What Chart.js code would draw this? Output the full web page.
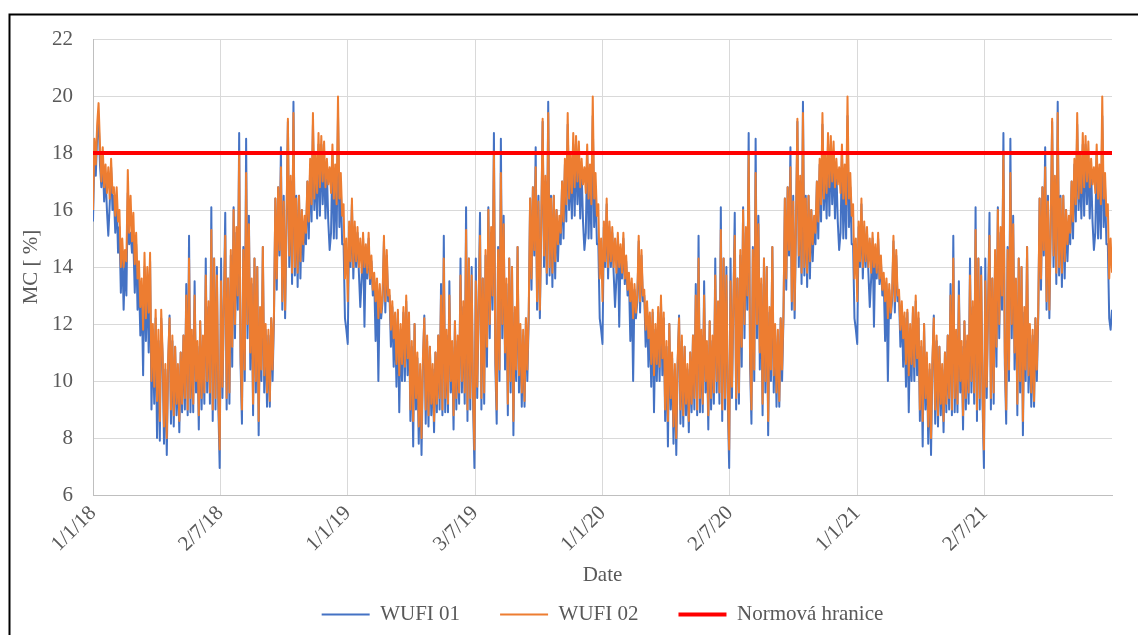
<!DOCTYPE html>
<html>
<head>
<meta charset="utf-8">
<title>MC</title>
<script src="https://cdn.jsdelivr.net/npm/chart.js@4"></script>
<style>
  html, body { margin: 0; padding: 0; background: #fff; overflow: hidden; }
  #wrap { width: 1138px; height: 635px; position: relative; }
</style>
</head>
<body>
<div id="wrap"><canvas id="mc" width="1138" height="635"></canvas></div>
<script>
// moisture content [%], one array per year, a value every 2 days
const wufi01_2018 = [15.6, 18.0, 17.2, 18.6, 19.3, 17.6, 16.8, 17.8, 16.3, 17.2,
  16.0, 15.1, 16.2, 17.5, 16.0, 16.5, 15.2, 16.4, 14.5, 15.4,
  13.1, 14.6, 12.5, 14.2, 13.0, 16.6, 14.8, 15.2, 14.5, 14.9,
  13.1, 14.8, 12.5, 13.6, 11.6, 13.2, 10.2, 14.0, 11.4, 13.6,
  11.0, 14.2, 9.0, 11.6, 9.2, 12.2, 8.0, 11.4, 7.9, 12.2,
  10.8, 7.8, 10.4, 7.4, 10.6, 12.3, 8.5, 11.4, 8.4, 11.2,
  8.8, 10.4, 8.2, 11.0, 8.9, 11.6, 9.0, 13.4, 8.8, 15.1,
  8.9, 11.6, 8.9, 13.5, 9.6, 11.2, 8.3, 12.1, 9.0, 11.4,
  9.2, 14.3, 9.6, 12.6, 9.2, 16.1, 8.6, 14.3, 9.0, 14.0,
  9.2, 6.95, 14.3, 9.4, 12.6, 15.9, 9.0, 13.6, 9.2, 14.4,
  10.5, 16.1, 11.5, 15.2, 12.5, 18.7, 10.6, 8.5, 14.7, 10.0,
  18.5, 11.5, 15.8, 10.4, 13.4, 8.8, 14.3, 9.6, 14.0, 8.1,
  12.4, 10.0, 14.7, 9.6, 11.8, 9.1, 11.6, 9.1, 12.2, 10.0,
  12.2, 16.4, 13.2, 16.8, 14.4, 18.2, 12.5, 16.5, 12.2, 15.4,
  19.1, 14.0, 17.0, 13.4, 19.8, 13.7, 16.5, 13.3, 16.5, 13.6,
  16.0, 14.2, 15.6, 14.8, 17.0, 15.0, 17.6, 15.6, 19.0, 16.0,
  17.4, 15.7, 18.3, 15.8, 18.3, 16.2, 17.8, 15.7, 17.4, 15.6,
  14.6, 15.2, 18.0, 15.0, 17.2, 15.0, 19.3, 15.4, 16.8, 14.8,
  14.8, 12.2, 11.8];
const wufi01_2019 = [11.3, 15.4, 14.0, 16.2, 13.6, 15.4, 14.0, 15.2, 13.8, 12.6,
  13.6, 15.0, 11.9, 14.6, 13.6, 15.0, 13.4, 14.2, 13.0, 13.6,
  11.4, 13.4, 10.0, 13.2, 12.2, 12.8, 14.9, 12.4, 14.4, 12.8,
  13.0, 11.2, 12.6, 10.5, 12.2, 9.8, 12.4, 8.9, 11.8, 10.0,
  12.4, 10.0, 12.8, 10.2, 12.2, 8.6, 11.2, 7.7, 12.0, 9.0,
  10.8, 7.8, 10.4, 7.4, 10.6, 12.3, 8.5, 11.4, 8.4, 11.2,
  8.8, 10.4, 8.2, 11.0, 8.9, 11.6, 9.0, 13.4, 8.8, 15.1,
  8.9, 11.6, 8.9, 13.5, 9.6, 11.2, 8.3, 12.1, 9.0, 11.4,
  9.2, 14.3, 9.6, 12.6, 9.2, 16.1, 8.6, 14.3, 9.0, 14.0,
  9.2, 6.95, 14.3, 9.4, 12.6, 15.9, 9.0, 13.6, 9.2, 14.4,
  10.5, 16.1, 11.5, 15.2, 12.5, 18.7, 10.6, 8.5, 14.7, 10.0,
  18.5, 11.5, 15.8, 10.4, 13.4, 8.8, 14.3, 9.6, 14.0, 8.1,
  12.4, 10.0, 14.7, 9.6, 11.8, 9.1, 11.6, 9.1, 12.2, 10.0,
  12.2, 16.4, 13.2, 16.8, 14.4, 18.2, 12.5, 16.5, 12.2, 15.4,
  19.1, 14.0, 17.0, 13.4, 19.8, 13.7, 16.5, 13.3, 16.5, 13.6,
  16.0, 14.2, 15.6, 14.8, 17.0, 15.0, 17.6, 15.6, 19.0, 16.0,
  17.4, 15.7, 18.3, 15.8, 18.3, 16.2, 17.8, 15.7, 17.4, 15.6,
  14.6, 15.2, 18.0, 15.0, 17.2, 15.0, 19.3, 15.4, 16.8, 14.8,
  14.8, 12.2, 11.8];
const wufi01_2020 = [11.3, 15.4, 14.0, 16.2, 13.6, 15.4, 14.0, 15.2, 13.8, 12.6,
  13.6, 15.0, 11.9, 14.6, 13.6, 15.0, 13.4, 14.2, 13.0, 13.6,
  11.4, 13.4, 10.0, 13.2, 12.2, 12.8, 14.9, 12.4, 14.4, 12.8,
  13.0, 11.2, 12.6, 10.5, 12.2, 9.8, 12.4, 8.9, 11.8, 10.0,
  12.4, 10.0, 12.8, 10.2, 12.2, 8.6, 11.2, 7.7, 12.0, 9.0,
  10.8, 7.8, 10.4, 7.4, 10.6, 12.3, 8.5, 11.4, 8.4, 11.2,
  8.8, 10.4, 8.2, 11.0, 8.9, 11.6, 9.0, 13.4, 8.8, 15.1,
  8.9, 11.6, 8.9, 13.5, 9.6, 11.2, 8.3, 12.1, 9.0, 11.4,
  9.2, 14.3, 9.6, 12.6, 9.2, 16.1, 8.6, 14.3, 9.0, 14.0,
  9.2, 6.95, 14.3, 9.4, 12.6, 15.9, 9.0, 13.6, 9.2, 14.4,
  10.5, 16.1, 11.5, 15.2, 12.5, 18.7, 10.6, 8.5, 14.7, 10.0,
  18.5, 11.5, 15.8, 10.4, 13.4, 8.8, 14.3, 9.6, 14.0, 8.1,
  12.4, 10.0, 14.7, 9.6, 11.8, 9.1, 11.6, 9.1, 12.2, 10.0,
  12.2, 16.4, 13.2, 16.8, 14.4, 18.2, 12.5, 16.5, 12.2, 15.4,
  19.1, 14.0, 17.0, 13.4, 19.8, 13.7, 16.5, 13.3, 16.5, 13.6,
  16.0, 14.2, 15.6, 14.8, 17.0, 15.0, 17.6, 15.6, 19.0, 16.0,
  17.4, 15.7, 18.3, 15.8, 18.3, 16.2, 17.8, 15.7, 17.4, 15.6,
  14.6, 15.2, 18.0, 15.0, 17.2, 15.0, 19.3, 15.4, 16.8, 14.8,
  14.8, 12.2, 11.8];
const wufi01_2021 = [11.3, 15.4, 14.0, 16.2, 13.6, 15.4, 14.0, 15.2, 13.8, 12.6,
  13.6, 15.0, 11.9, 14.6, 13.6, 15.0, 13.4, 14.2, 13.0, 13.6,
  11.4, 13.4, 10.0, 13.2, 12.2, 12.8, 14.9, 12.4, 14.4, 12.8,
  13.0, 11.2, 12.6, 10.5, 12.2, 9.8, 12.4, 8.9, 11.8, 10.0,
  12.4, 10.0, 12.8, 10.2, 12.2, 8.6, 11.2, 7.7, 12.0, 9.0,
  10.8, 7.8, 10.4, 7.4, 10.6, 12.3, 8.5, 11.4, 8.4, 11.2,
  8.8, 10.4, 8.2, 11.0, 8.9, 11.6, 9.0, 13.4, 8.8, 15.1,
  8.9, 11.6, 8.9, 13.5, 9.6, 11.2, 8.3, 12.1, 9.0, 11.4,
  9.2, 14.3, 9.6, 12.6, 9.2, 16.1, 8.6, 14.3, 9.0, 14.0,
  9.2, 6.95, 14.3, 9.4, 12.6, 15.9, 9.0, 13.6, 9.2, 14.4,
  10.5, 16.1, 11.5, 15.2, 12.5, 18.7, 10.6, 8.5, 14.7, 10.0,
  18.5, 11.5, 15.8, 10.4, 13.4, 8.8, 14.3, 9.6, 14.0, 8.1,
  12.4, 10.0, 14.7, 9.6, 11.8, 9.1, 11.6, 9.1, 12.2, 10.0,
  12.2, 16.4, 13.2, 16.8, 14.4, 18.2, 12.5, 16.5, 12.2, 15.4,
  19.1, 14.0, 17.0, 13.4, 19.8, 13.7, 16.5, 13.3, 16.5, 13.6,
  16.0, 14.2, 15.6, 14.8, 17.0, 15.0, 17.6, 15.6, 19.0, 16.0,
  17.4, 15.7, 18.3, 15.8, 18.3, 16.2, 17.8, 15.7, 17.4, 15.6,
  14.6, 15.2, 18.0, 15.0, 17.2, 15.0, 19.3, 15.4, 16.8, 14.8,
  14.8, 12.2, 11.8, 12.5];

const wufi02_2018 = [16.0, 18.5, 17.6, 19.0, 19.75, 18.3, 17.0, 18.2, 16.8, 17.6,
  16.6, 17.5, 16.4, 17.8, 16.6, 16.8, 15.8, 16.8, 15.6, 16.0,
  14.0, 15.0, 14.0, 14.6, 14.2, 17.4, 15.2, 16.5, 14.9, 15.9,
  14.1, 15.2, 13.6, 14.2, 12.6, 13.6, 11.8, 14.5, 12.2, 14.0,
  12.4, 14.5, 10.0, 12.0, 9.8, 12.5, 9.3, 11.8, 8.6, 12.5,
  11.0, 8.4, 10.6, 8.0, 10.8, 12.2, 9.0, 11.6, 8.8, 11.2,
  9.2, 10.6, 8.6, 11.0, 9.2, 11.6, 9.4, 13.0, 9.0, 14.3,
  9.4, 11.8, 9.2, 13.0, 10.0, 11.4, 8.8, 12.1, 9.4, 11.6,
  9.6, 13.7, 10.0, 12.8, 9.6, 15.3, 9.0, 14.3, 9.4, 13.7,
  9.6, 7.6, 13.5, 9.8, 12.8, 15.1, 9.4, 13.6, 9.6, 14.6,
  11.2, 16.0, 12.0, 15.4, 13.0, 18.05, 11.0, 9.0, 14.6, 10.4,
  17.3, 12.0, 15.5, 11.0, 13.6, 9.2, 14.3, 10.0, 14.0, 8.6,
  12.6, 10.4, 14.7, 10.2, 12.0, 9.6, 11.8, 9.3, 12.2, 10.4,
  12.4, 16.4, 13.6, 16.8, 14.6, 17.5, 12.8, 16.3, 12.5, 15.6,
  19.2, 14.4, 17.2, 13.8, 19.4, 14.0, 16.4, 13.8, 16.5, 14.2,
  16.0, 14.8, 15.8, 15.2, 17.0, 15.6, 17.8, 16.2, 19.4, 16.4,
  18.0, 16.6, 18.7, 16.8, 18.6, 17.0, 18.4, 16.8, 17.8, 16.9,
  17.5, 16.6, 18.3, 16.4, 17.6, 16.2, 19.98, 16.4, 17.3, 15.8,
  16.2, 13.6, 15.0];
const wufi02_2019 = [12.8, 15.6, 14.2, 16.4, 14.0, 15.6, 14.2, 15.4, 14.0, 15.0,
  13.8, 15.2, 14.0, 14.8, 13.8, 15.2, 13.6, 14.4, 13.2, 13.8,
  12.8, 13.6, 12.2, 13.4, 12.4, 13.0, 15.1, 12.8, 14.6, 13.0,
  13.2, 11.8, 12.8, 11.5, 12.4, 10.6, 12.5, 10.2, 12.0, 10.6,
  12.6, 10.5, 13.0, 10.8, 12.4, 9.0, 11.4, 8.6, 12.0, 9.4,
  11.0, 8.4, 10.6, 8.0, 10.8, 12.2, 9.0, 11.6, 8.8, 11.2,
  9.2, 10.6, 8.6, 11.0, 9.2, 11.6, 9.4, 13.0, 9.0, 14.3,
  9.4, 11.8, 9.2, 13.0, 10.0, 11.4, 8.8, 12.1, 9.4, 11.6,
  9.6, 13.7, 10.0, 12.8, 9.6, 15.3, 9.0, 14.3, 9.4, 13.7,
  9.6, 7.6, 13.5, 9.8, 12.8, 15.1, 9.4, 13.6, 9.6, 14.6,
  11.2, 16.0, 12.0, 15.4, 13.0, 18.05, 11.0, 9.0, 14.6, 10.4,
  17.3, 12.0, 15.5, 11.0, 13.6, 9.2, 14.3, 10.0, 14.0, 8.6,
  12.6, 10.4, 14.7, 10.2, 12.0, 9.6, 11.8, 9.3, 12.2, 10.4,
  12.4, 16.4, 13.6, 16.8, 14.6, 17.5, 12.8, 16.3, 12.5, 15.6,
  19.2, 14.4, 17.2, 13.8, 19.4, 14.0, 16.4, 13.8, 16.5, 14.2,
  16.0, 14.8, 15.8, 15.2, 17.0, 15.6, 17.8, 16.2, 19.4, 16.4,
  18.0, 16.6, 18.7, 16.8, 18.6, 17.0, 18.4, 16.8, 17.8, 16.9,
  17.5, 16.6, 18.3, 16.4, 17.6, 16.2, 19.98, 16.4, 17.3, 15.8,
  16.2, 13.6, 15.0];
const wufi02_2020 = [12.8, 15.6, 14.2, 16.4, 14.0, 15.6, 14.2, 15.4, 14.0, 15.0,
  13.8, 15.2, 14.0, 14.8, 13.8, 15.2, 13.6, 14.4, 13.2, 13.8,
  12.8, 13.6, 12.2, 13.4, 12.4, 13.0, 15.1, 12.8, 14.6, 13.0,
  13.2, 11.8, 12.8, 11.5, 12.4, 10.6, 12.5, 10.2, 12.0, 10.6,
  12.6, 10.5, 13.0, 10.8, 12.4, 9.0, 11.4, 8.6, 12.0, 9.4,
  11.0, 8.4, 10.6, 8.0, 10.8, 12.2, 9.0, 11.6, 8.8, 11.2,
  9.2, 10.6, 8.6, 11.0, 9.2, 11.6, 9.4, 13.0, 9.0, 14.3,
  9.4, 11.8, 9.2, 13.0, 10.0, 11.4, 8.8, 12.1, 9.4, 11.6,
  9.6, 13.7, 10.0, 12.8, 9.6, 15.3, 9.0, 14.3, 9.4, 13.7,
  9.6, 7.6, 13.5, 9.8, 12.8, 15.1, 9.4, 13.6, 9.6, 14.6,
  11.2, 16.0, 12.0, 15.4, 13.0, 18.05, 11.0, 9.0, 14.6, 10.4,
  17.3, 12.0, 15.5, 11.0, 13.6, 9.2, 14.3, 10.0, 14.0, 8.6,
  12.6, 10.4, 14.7, 10.2, 12.0, 9.6, 11.8, 9.3, 12.2, 10.4,
  12.4, 16.4, 13.6, 16.8, 14.6, 17.5, 12.8, 16.3, 12.5, 15.6,
  19.2, 14.4, 17.2, 13.8, 19.4, 14.0, 16.4, 13.8, 16.5, 14.2,
  16.0, 14.8, 15.8, 15.2, 17.0, 15.6, 17.8, 16.2, 19.4, 16.4,
  18.0, 16.6, 18.7, 16.8, 18.6, 17.0, 18.4, 16.8, 17.8, 16.9,
  17.5, 16.6, 18.3, 16.4, 17.6, 16.2, 19.98, 16.4, 17.3, 15.8,
  16.2, 13.6, 15.0];
const wufi02_2021 = [12.8, 15.6, 14.2, 16.4, 14.0, 15.6, 14.2, 15.4, 14.0, 15.0,
  13.8, 15.2, 14.0, 14.8, 13.8, 15.2, 13.6, 14.4, 13.2, 13.8,
  12.8, 13.6, 12.2, 13.4, 12.4, 13.0, 15.1, 12.8, 14.6, 13.0,
  13.2, 11.8, 12.8, 11.5, 12.4, 10.6, 12.5, 10.2, 12.0, 10.6,
  12.6, 10.5, 13.0, 10.8, 12.4, 9.0, 11.4, 8.6, 12.0, 9.4,
  11.0, 8.4, 10.6, 8.0, 10.8, 12.2, 9.0, 11.6, 8.8, 11.2,
  9.2, 10.6, 8.6, 11.0, 9.2, 11.6, 9.4, 13.0, 9.0, 14.3,
  9.4, 11.8, 9.2, 13.0, 10.0, 11.4, 8.8, 12.1, 9.4, 11.6,
  9.6, 13.7, 10.0, 12.8, 9.6, 15.3, 9.0, 14.3, 9.4, 13.7,
  9.6, 7.6, 13.5, 9.8, 12.8, 15.1, 9.4, 13.6, 9.6, 14.6,
  11.2, 16.0, 12.0, 15.4, 13.0, 18.05, 11.0, 9.0, 14.6, 10.4,
  17.3, 12.0, 15.5, 11.0, 13.6, 9.2, 14.3, 10.0, 14.0, 8.6,
  12.6, 10.4, 14.7, 10.2, 12.0, 9.6, 11.8, 9.3, 12.2, 10.4,
  12.4, 16.4, 13.6, 16.8, 14.6, 17.5, 12.8, 16.3, 12.5, 15.6,
  19.2, 14.4, 17.2, 13.8, 19.4, 14.0, 16.4, 13.8, 16.5, 14.2,
  16.0, 14.8, 15.8, 15.2, 17.0, 15.6, 17.8, 16.2, 19.4, 16.4,
  18.0, 16.6, 18.7, 16.8, 18.6, 17.0, 18.4, 16.8, 17.8, 16.9,
  17.5, 16.6, 18.3, 16.4, 17.6, 16.2, 19.98, 16.4, 17.3, 15.8,
  16.2, 13.6, 15.0, 13.8];

const normLimit = 18; // Normová hranice
const xTickLabels = ['1/1/18', '2/7/18', '1/1/19', '3/7/19', '1/1/20', '2/7/20', '1/1/21', '2/7/21'];
const yTicks = [6, 8, 10, 12, 14, 16, 18, 20, 22];

// x is in days from 1/1/18
const DAYS = 365;
const PER_YEAR = 183;
function toPoints(years) {
  let pts = [];
  years.forEach((vals, y) => {
    vals.forEach((v, i) => pts.push({ x: y * DAYS + i * DAYS / PER_YEAR, y: v }));
  });
  return pts;
}
const totalDays = DAYS * 4;

const FONT = "'Liberation Serif', 'Times New Roman', serif";
const TXT = '#595959';

// white page + black frame round the chart
const frame = {
  id: 'frame',
  beforeDraw(chart) {
    const c = chart.ctx;
    c.save();
    c.fillStyle = '#fff';
    c.fillRect(0, 0, chart.width, chart.height);
    c.restore();
  },
  afterDraw(chart) {
    const c = chart.ctx;
    c.save();
    c.strokeStyle = '#000';
    c.lineWidth = 2;
    c.strokeRect(9.5, 14.5, 1200, 700);
    c.restore();
  }
};

new Chart(document.getElementById('mc'), {
  type: 'line',
  data: {
    datasets: [
      {
        label: 'WUFI 01',
        data: toPoints([wufi01_2018, wufi01_2019, wufi01_2020, wufi01_2021]),
        borderColor: '#4472C4',
        backgroundColor: '#4472C4',
        borderWidth: 2,
        order: 3
      },
      {
        label: 'WUFI 02',
        data: toPoints([wufi02_2018, wufi02_2019, wufi02_2020, wufi02_2021]),
        borderColor: '#ED7D31',
        backgroundColor: '#ED7D31',
        borderWidth: 2,
        order: 2
      },
      {
        label: 'Normová hranice',
        data: [{ x: 0, y: normLimit }, { x: totalDays, y: normLimit }],
        borderColor: '#FF0000',
        backgroundColor: '#FF0000',
        borderWidth: 4,
        order: 1
      }
    ]
  },
  options: {
    responsive: false,
    animation: false,
    devicePixelRatio: 1,
    elements: {
      point: { radius: 0 },
      line: { tension: 0, borderJoinStyle: 'round', borderCapStyle: 'butt' }
    },
    layout: { padding: { left: 0, top: 39, right: 26, bottom: 0 } },
    scales: {
      x: {
        type: 'linear',
        min: 0,
        max: totalDays,
        afterBuildTicks: (s) => { s.ticks = xTickLabels.map((_, k) => ({ value: k * DAYS / 2 })); },
        afterFit: (s) => { s.height = 69; },
        ticks: {
          callback: (v, i) => xTickLabels[i],
          autoSkip: false,
          minRotation: 45,
          maxRotation: 45,
          padding: 6,
          color: TXT,
          font: { family: FONT, size: 21 }
        },
        grid: { color: '#d9d9d9', drawTicks: false },
        border: { color: '#bfbfbf' },
        title: {
          display: true,
          text: 'Date',
          color: TXT,
          font: { family: FONT, size: 21 },
          padding: { top: 0, bottom: -24 }
        }
      },
      y: {
        min: 6,
        max: 22,
        afterBuildTicks: (s) => { s.ticks = yTicks.map(v => ({ value: v })); },
        afterFit: (s) => { s.width = 93; },
        ticks: {
          padding: 20,
          color: TXT,
          font: { family: FONT, size: 21 }
        },
        grid: { color: '#d9d9d9', drawTicks: false },
        border: { color: '#bfbfbf' },
        title: {
          display: true,
          text: 'MC [ %]',
          color: TXT,
          font: { family: FONT, size: 21 },
          padding: { top: 19, bottom: 0 }
        }
      }
    },
    plugins: {
      tooltip: { enabled: false },
      legend: {
        position: 'bottom',
        fullSize: false,
        labels: {
          usePointStyle: true,
          pointStyle: 'line',
          pointStyleWidth: 48,
          padding: 40,
          color: TXT,
          font: { family: FONT, size: 21 },
          sort: (a, b) => a.datasetIndex - b.datasetIndex
        }
      }
    }
  },
  plugins: [frame]
});
</script>
</body>
</html>
